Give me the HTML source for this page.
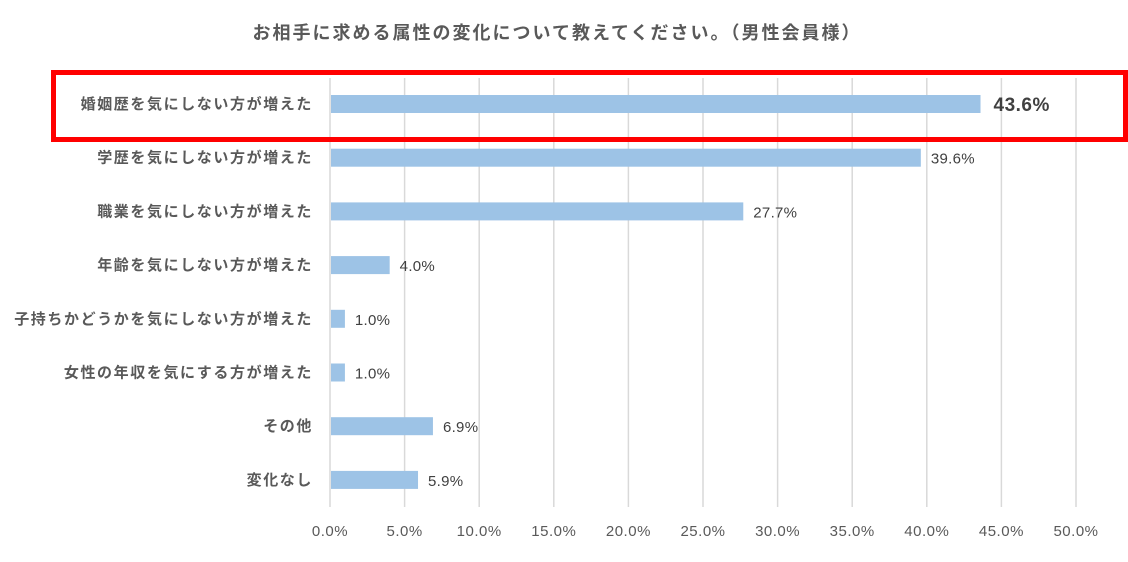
<!DOCTYPE html>
<html><head><meta charset="utf-8"><style>
body{margin:0;background:#fff;width:1128px;height:557px;overflow:hidden;font-family:"Liberation Sans","Noto Sans CJK JP",sans-serif}
</style></head><body>
<svg width="1128" height="557">
<text x="557" y="39" text-anchor="middle" font-size="18" letter-spacing="2" font-weight="bold" fill="#595959" font-family="Liberation Sans, Noto Sans CJK JP, sans-serif">お相手に求める属性の変化について教えてください。（男性会員様）</text>
<g id="grid"></g><g id="bars"></g>
<rect x="53.5" y="72.5" width="1072" height="67" fill="none" stroke="#ff0000" stroke-width="5"/>
</svg>
<script>
const categories=["婚姻歴を気にしない方が増えた","学歴を気にしない方が増えた","職業を気にしない方が増えた","年齢を気にしない方が増えた","子持ちかどうかを気にしない方が増えた","女性の年収を気にする方が増えた","その他","変化なし"];
const values=[43.6,39.6,27.7,4.0,1.0,1.0,6.9,5.9];
const ticks=[0,5,10,15,20,25,30,35,40,45,50];
const NS="http://www.w3.org/2000/svg";
const x=v=>330+v*14.92;
const yc=i=>104+i*53.7;
const g=document.getElementById('grid'),b=document.getElementById('bars');
function mk(t,a,p){const e=document.createElementNS(NS,t);for(const k in a)e.setAttribute(k,a[k]);p.appendChild(e);return e;}
ticks.forEach(t=>{
 const l=mk('line',{x1:x(t),x2:x(t),y1:78,y2:507,stroke:'#d9d9d9','stroke-width':1.5},g);
 
 
 const tx=mk('text',{x:x(t),y:536,'text-anchor':'middle','font-size':15,'letter-spacing':0.5,fill:'#595959'},g);
 tx.textContent=t.toFixed(1)+'%';
 
 
});
categories.forEach((c,i)=>{
 const y=yc(i);
 const lb=mk('text',{x:313,y:y+5,'text-anchor':'end','font-size':15,'letter-spacing':1.6,'font-weight':'bold',fill:'#595959'},b);
 lb.textContent=c;
 
 
 const r=mk('rect',{x:x(0)+1,y:y-9,width:x(values[i])-x(0)-1,height:18,fill:'#9dc3e6'},b);
 
 
 const first=i===0;
 const v=mk('text',{x:x(values[i])+(first?13:10),y:y+(first?7:6),'font-size':first?19:15,'letter-spacing':first?0.5:0.3,'font-weight':first?'bold':'normal',fill:'#404040'},b);
 v.textContent=values[i].toFixed(1)+'%';
 
 
});
</script>
</body></html>
